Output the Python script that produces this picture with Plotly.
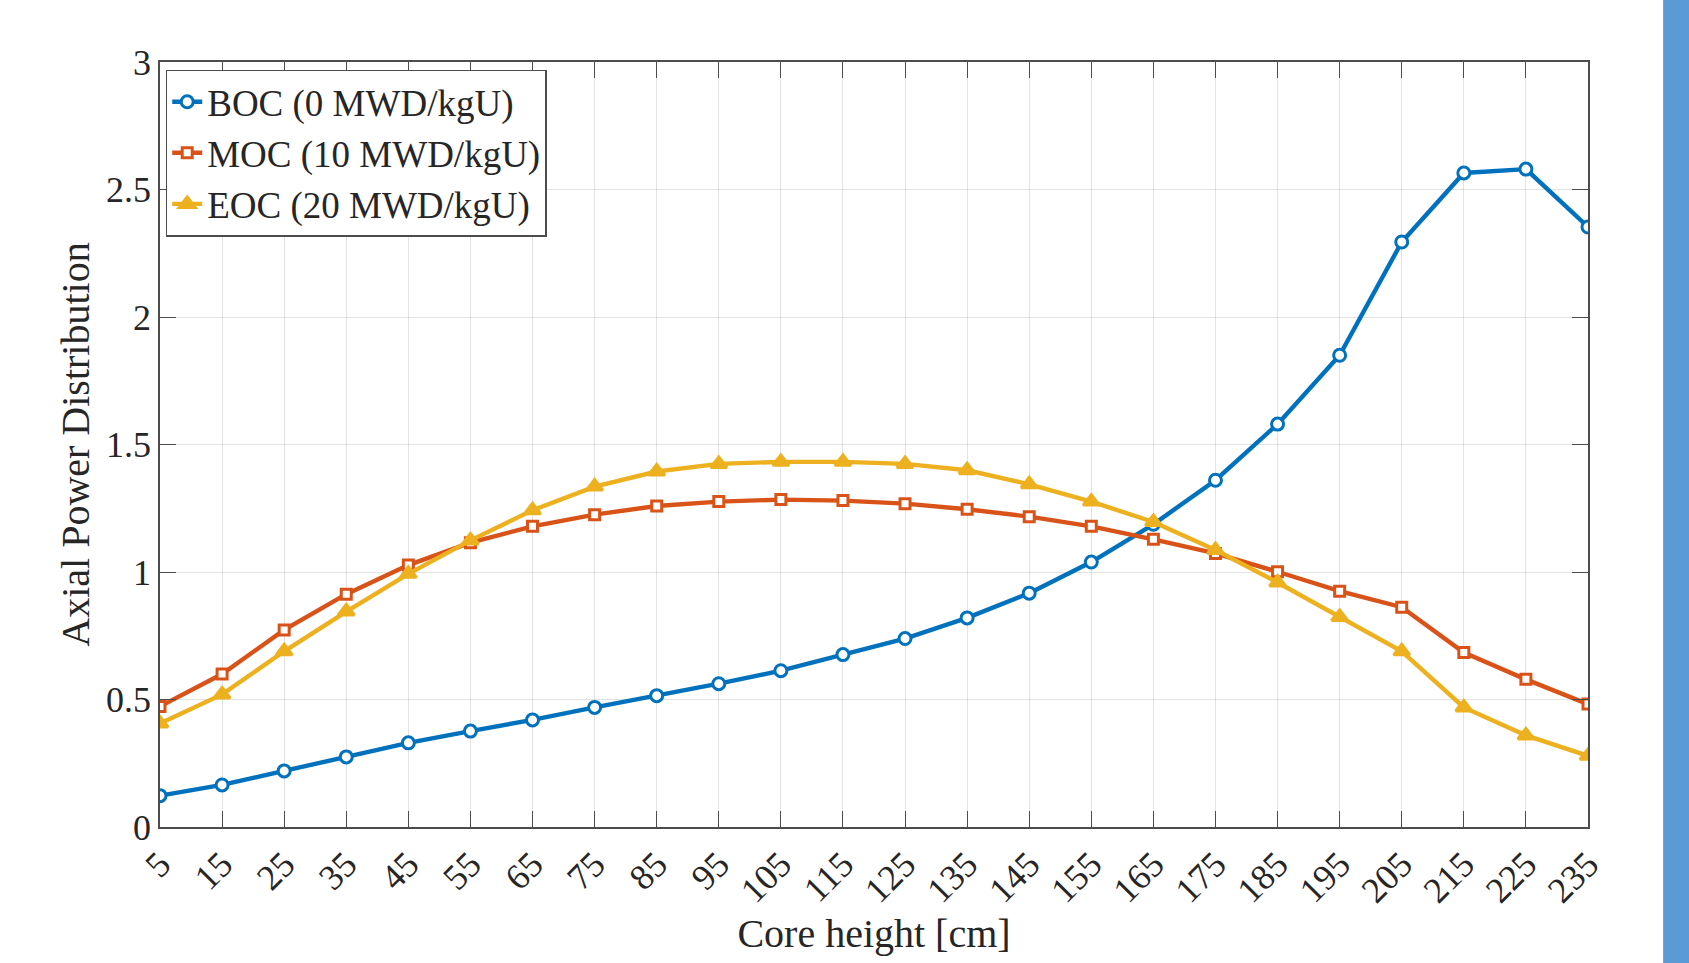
import plotly.graph_objects as go

heights = [5, 15, 25, 35, 45, 55, 65, 75, 85, 95, 105, 115, 125, 135, 145, 155, 165, 175, 185, 195, 205, 215, 225, 235]
boc = [0.123, 0.165, 0.220, 0.275, 0.330, 0.376, 0.420, 0.469, 0.515, 0.562, 0.613, 0.676, 0.739, 0.820, 0.917, 1.039,
       1.187, 1.360, 1.580, 1.850, 2.294, 2.565, 2.580, 2.353]
moc = [0.473, 0.600, 0.773, 0.913, 1.027, 1.115, 1.179, 1.225, 1.259, 1.276, 1.284, 1.280, 1.268, 1.246, 1.217, 1.179,
       1.128, 1.073, 1.001, 0.925, 0.862, 0.684, 0.579, 0.482]
eoc = [0.406, 0.520, 0.689, 0.845, 0.993, 1.124, 1.242, 1.335, 1.394, 1.424, 1.432, 1.432, 1.424, 1.399, 1.344, 1.276,
       1.196, 1.086, 0.959, 0.824, 0.689, 0.469, 0.359, 0.279]
names = ["BOC (0 MWD/kgU)", "MOC (10 MWD/kgU)", "EOC (20 MWD/kgU)"]
colors = ["#0072BD", "#D95319", "#EDB120"]
symbols = ["circle", "square", "triangle-up"]
tick_vals = heights
tick_text = [str(h) for h in heights]

FONT = "Liberation Serif, Times New Roman, serif"

fig = go.Figure()
for ys, name, col, sym in zip([boc, moc, eoc], names, colors, symbols):
    if sym == "circle":
        msize, mfill = 12, "white"
    elif sym == "square":
        msize, mfill = 10, "white"
    else:
        msize, mfill = 14, col
    fig.add_trace(go.Scatter(
        x=heights, y=ys, name=name, mode="lines+markers",
        line=dict(color=col, width=4.4),
        marker=dict(symbol=sym, size=msize, color=mfill, line=dict(color=col, width=3)),
    ))

axis_common = dict(
    showline=True, linecolor="#4d4d4d", linewidth=1.5, mirror="allticks",
    ticks="inside", ticklen=16, tickwidth=1.2, tickcolor="#4d4d4d",
    showgrid=True, gridcolor="rgba(0,0,0,0.11)", gridwidth=1,
    zeroline=False,
    tickfont=dict(family=FONT, size=36, color="#262626"),
)

fig.update_xaxes(
    range=[5, 235], tickmode="array", tickvals=tick_vals, ticktext=tick_text, tickangle=-45,
    title=dict(text="Core height [cm]", font=dict(family=FONT, size=40, color="#262626"), standoff=8),
    **axis_common,
)
fig.update_yaxes(
    range=[0, 3], dtick=0.5, tick0=0,
    title=dict(text="Axial Power Distribution", font=dict(family=FONT, size=40, color="#262626"), standoff=4),
    **axis_common,
)

fig.add_shape(type="rect", xref="paper", yref="paper", x0=1.0526, x1=1.08, y0=-0.3, y1=1.2,
              fillcolor="#5B9BD5", line=dict(width=0), layer="above")

fig.update_layout(
    width=1689, height=963,
    margin=dict(l=160, r=101, t=62, b=136),
    paper_bgcolor="white", plot_bgcolor="white",
    font=dict(family=FONT, color="#262626"),
    legend=dict(
        x=0.004, y=0.99, xanchor="left", yanchor="top",
        bgcolor="white", bordercolor="#4d4d4d", borderwidth=1.5,
        font=dict(family=FONT, size=37, color="#262626"),
        itemwidth=30, tracegroupgap=0,
    ),
)

fig.write_html(
    "out.html",
    config={"displayModeBar": False},
    post_script="document.body.style.margin='0';document.body.style.overflow='hidden';",
)
